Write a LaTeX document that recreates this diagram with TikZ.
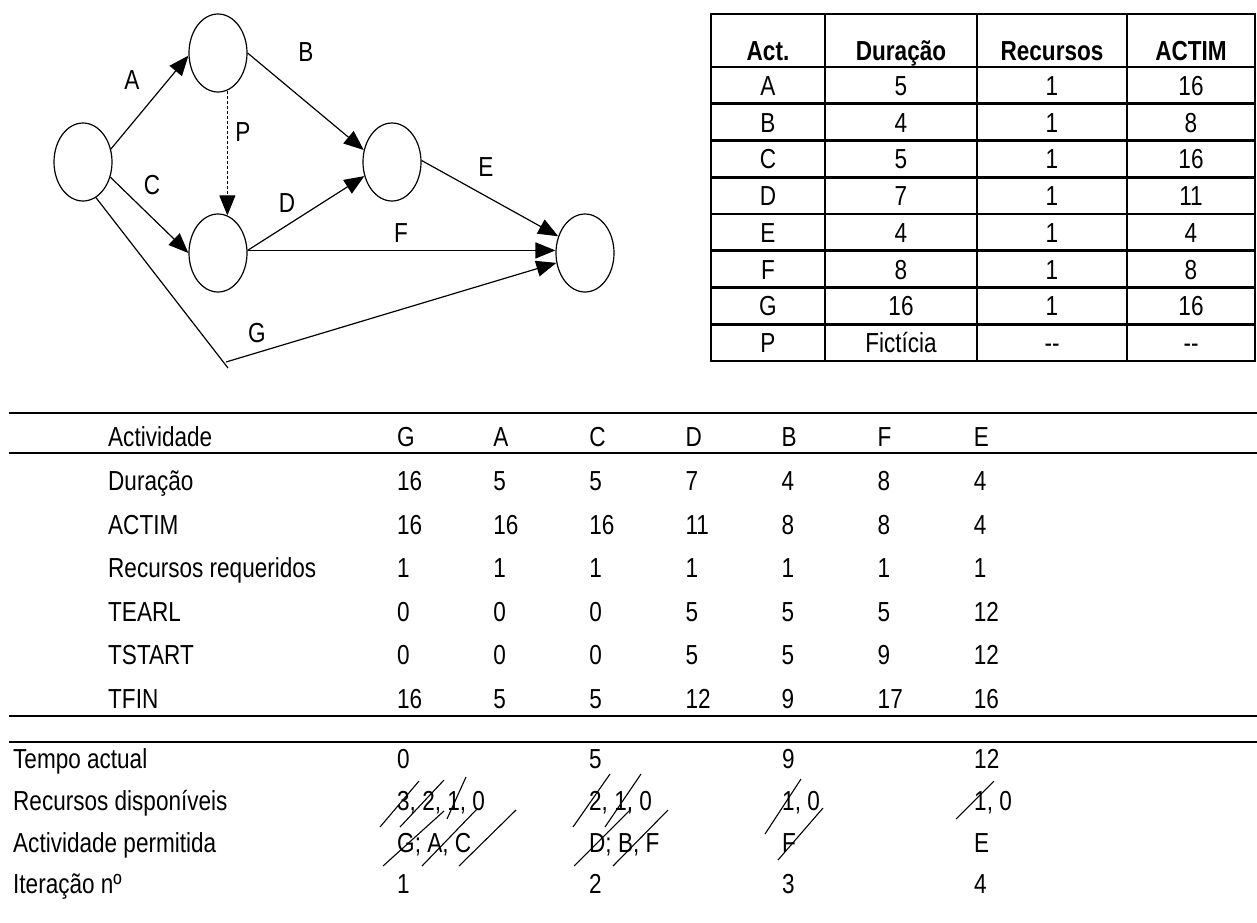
\documentclass[tikz,border=0pt]{standalone}
\usepackage{fontspec}
\setmainfont{Liberation Sans}[FakeStretch=0.82]
\usepackage{tikz}
\usetikzlibrary{positioning, calc, arrows.meta, shapes.geometric}

\begin{document}
\begin{tikzpicture}[x=1pt,y=-1pt,
  every node/.style={font=\fontsize{27.5}{30}\selectfont, inner sep=0pt},
  evt/.style={draw, ellipse, line width=1.2pt, minimum width=58pt, minimum height=78pt},
  act/.style={line width=1.2pt, -{Triangle[length=20pt,width=16pt]}},
  rule/.style={line width=2.8pt},
  strike/.style={line width=1.1pt},
  txt/.style={anchor=base west}]
\useasboundingbox (0,0) rectangle (1257,922);
% rede
\node[evt] (n1) at (83,162) {};
\node[evt] (n2) at (218,53) {};
\node[evt] (n3) at (218,253) {};
\node[evt] (n4) at (392,162) {};
\node[evt] (n5) at (585,253) {};
\coordinate (g1) at (228,368);
\coordinate (g2) at (226,362);
\draw[act] (n1.25) -- (n2.185);
\draw[act] (n2.0) -- (n4.157);
\draw[act, densely dashed, line width=0.9pt] (n2.-76) -- (n3.76);
\draw[act] (n1.-29) -- (n3.180);
\draw[act] (n3.5) -- (n4.207);
\draw[act] (n3.5) -- (n5.175);
\draw[act] (n4.3) -- (n5.148);
\draw[line width=1.2pt] (n1.-70) -- (g1);
\draw[act] (g2) -- (n5.199);
\node (lA) at (132,80) {A};
\node (lB) at (306,52) {B};
\node (lP) at (243,132) {P};
\node (lC) at (152,185) {C};
\node (lD) at (287,203) {D};
\node (lE) at (486,167) {E};
\node (lF) at (401,233) {F};
\node (lG) at (257,333) {G};
% tabela de dados
\draw[rule] (711,14) rectangle (1255,361);
\foreach \k in {0,...,7}
  \draw[rule] (711,{67+36.75*\k}) -- (1255,{67+36.75*\k});
\foreach \x in {825,977,1127}
  \draw[rule] (\x,14) -- (\x,361);
\foreach \t/\x [count=\i] in {Act./768, Duração/901, Recursos/1052, ACTIM/1191}
  \node[anchor=base] (h\i) at (\x,60) {\bfseries \t};
\foreach \n/\d/\r/\a [count=\k] in {A/5/1/16, B/4/1/8, C/5/1/16, D/7/1/11, E/4/1/4, F/8/1/8, G/16/1/16, P/Fictícia/-{}-/-{}-}{
  \node[anchor=base] (a\k) at (768,{67+36.75*(\k-0.5)+10}) {\n};
  \node[anchor=base] (d\k) at (901,{67+36.75*(\k-0.5)+10}) {\d};
  \node[anchor=base] (r\k) at (1052,{67+36.75*(\k-0.5)+10}) {\r};
  \node[anchor=base] (m\k) at (1191,{67+36.75*(\k-0.5)+10}) {\a};
}
% ACTIM
\draw[rule] (9,413) -- (1257,413);
\draw[rule] (9,453) -- (1257,453);
\draw[rule] (9,716) -- (1257,716);
\draw[rule] (9,742) -- (1257,742);
\foreach \lab/\y/\vals [count=\r] in {Actividade/446/{G,A,C,D,B,F,E}, Duração/490/{16,5,5,7,4,8,4},
    ACTIM/534/{16,16,16,11,8,8,4}, Recursos requeridos/577/{1,1,1,1,1,1,1},
    TEARL/621/{0,0,0,5,5,5,12}, TSTART/664/{0,0,0,5,5,9,12}, TFIN/708/{16,5,5,12,9,17,16}}{
  \node[txt] (row\r) at (108,\y) {\lab};
  \foreach \v [count=\c] in \vals
    \node[txt] (v\r-\c) at ({397+96.1*(\c-1)},\y) {\v};
}
\node[txt] (tempo) at (13,768) {Tempo actual};
\node[txt] (disp) at (13,810) {Recursos disponíveis};
\node[txt] (perm) at (13,852) {Actividade permitida};
\node[txt] (iter) at (13,893) {Iteração nº};
\foreach \t/\x [count=\i] in {0/397, 5/589, 9/782, 12/974}
  \node[txt] (t\i) at (\x,768) {\t};
\foreach \t/\x [count=\i] in {1/397, 2/589, 3/782, 4/974}
  \node[txt] (i\i) at (\x,893) {\t};
\node[txt] (q1) at (397,810) {3, 2, 1, 0};
\node[txt] (q2) at (589,810) {2, 1, 0};
\node[txt] (q3) at (782,810) {1, 0};
\node[txt] (q4) at (974,810) {1, 0};
\node[txt] (p1) at (397,852) {G; A, C};
\node[txt] (p2) at (589,852) {D; B, F};
\node[txt] (p3) at (782,852) {F};
\node[txt] (p4) at (974,852) {E};
\foreach \n/\a/\b/\c/\d in {q1/-17/17/22/-29, q1/3/17/47/-30, q1/50/9/69/-33,
    p1/-14/14/47/-41, p1/25/14/80/-43, p1/62/14/119/-42,
    q2/-16/17/21/-36, q2/16/17/52/-36, p2/-15/14/41/-42, p2/24/14/79/-42,
    q3/-17/24/19/-31, p3/-4/8/41/-44, q4/-18/9/20/-29}
  \draw[strike] ($(\n.base west)+(\a,\b)$) -- ($(\n.base west)+(\c,\d)$);
\end{tikzpicture}
\end{document}
